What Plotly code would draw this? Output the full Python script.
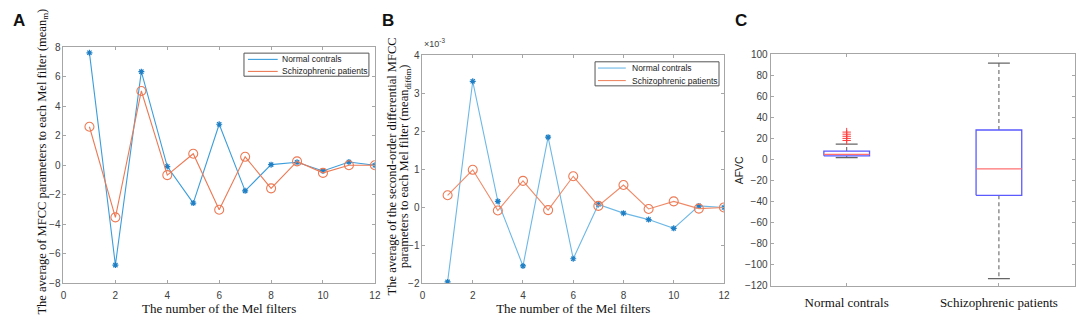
import plotly.graph_objects as go

# ---------------- data ----------------
filters = list(range(1, 13))
mfcc_normal = [7.63, -6.78, 6.35, -0.09, -2.57, 2.78, -1.74, 0.04, 0.20, -0.39, 0.22, 0.0]
mfcc_schizo = [2.61, -3.54, 5.04, -0.67, 0.78, -3.02, 0.57, -1.57, 0.26, -0.52, 0.0, 0.0]
dif_normal = [-1.97, 3.31, 0.15, -1.55, 1.84, -1.36, 0.07, -0.16, -0.33, -0.56, 0.03, -0.01]  # x 1e-3
dif_schizo = [0.31, 0.98, -0.09, 0.69, -0.08, 0.81, 0.03, 0.58, -0.05, 0.15, -0.04, -0.01]   # x 1e-3

groups = ["Normal contrals", "Schizophrenic patients"]
afvc_lower = [1.8, -113]
afvc_q1 = [3.5, -34]
afvc_median = [4.9, -9]
afvc_q3 = [8.0, 28]
afvc_upper = [14.5, 91.5]
afvc_outliers_normal = [18, 20, 22, 24, 26]

series_names = ["Normal contrals", "Schizophrenic patients"]

# ---------------- style ----------------
W, H = 1084, 316
BLUE = "#3b9ddb"
ORANGE = "#ec7a55"
BLUE_B = "#6db8e6"
ORANGE_B = "#ef8a68"
AX = "#a6a6a6"
TICKF = dict(family="Liberation Sans, Arial", size=10, color="#404040")
SERIF = "Liberation Serif, Times New Roman"
SANS = "Liberation Sans, Arial"


def px_x(v):
    return v / W


def px_y(v):
    return 1 - v / H


def dx(a, b):
    return [a / W, b / W]


def dy(top, bottom):
    return [1 - bottom / H, 1 - top / H]


fig = go.Figure()

# ---- Panel A ----
fig.add_trace(go.Scatter(x=filters, y=mfcc_normal, mode="lines+markers", xaxis="x", yaxis="y",
                         line=dict(color=BLUE, width=1.1), name=series_names[0],
                         marker=dict(symbol="asterisk-open", size=5, color="#1f7fc4", line=dict(width=1.2, color="#1f7fc4")),
                         showlegend=False))
fig.add_trace(go.Scatter(x=filters, y=mfcc_schizo, mode="lines+markers", xaxis="x", yaxis="y",
                         line=dict(color=ORANGE, width=1.1), name=series_names[1],
                         marker=dict(symbol="circle-open", size=9, color=ORANGE, line=dict(width=1.1, color=ORANGE)),
                         showlegend=False))

# ---- Panel B ----
fig.add_trace(go.Scatter(x=filters, y=dif_normal, mode="lines+markers", xaxis="x2", yaxis="y2",
                         line=dict(color=BLUE_B, width=1.1), name=series_names[0],
                         marker=dict(symbol="asterisk-open", size=5, color="#1f7fc4", line=dict(width=1.2, color="#1f7fc4")),
                         showlegend=False))
fig.add_trace(go.Scatter(x=filters, y=dif_schizo, mode="lines+markers", xaxis="x2", yaxis="y2",
                         line=dict(color=ORANGE_B, width=1.1), name=series_names[1],
                         marker=dict(symbol="circle-open", size=9, color=ORANGE, line=dict(width=1.1, color=ORANGE)),
                         showlegend=False))

# ---- Panel C (box plots built from stats) ----
bw, cw = 0.15, 0.072
for i in range(len(groups)):
    p = i + 1
    fig.add_trace(go.Scatter(x=[p, p, None, p, p],
                             y=[afvc_q3[i], afvc_upper[i], None, afvc_q1[i], afvc_lower[i]],
                             mode="lines", xaxis="x3", yaxis="y3", showlegend=False,
                             line=dict(color="#666666", width=1.1, dash="4px,3px")))
    fig.add_trace(go.Scatter(x=[p - cw, p + cw, None, p - cw, p + cw],
                             y=[afvc_upper[i], afvc_upper[i], None, afvc_lower[i], afvc_lower[i]],
                             mode="lines", xaxis="x3", yaxis="y3", showlegend=False,
                             line=dict(color="#666666", width=1.2)))
    fig.add_trace(go.Scatter(x=[p - bw, p + bw, p + bw, p - bw, p - bw],
                             y=[afvc_q1[i], afvc_q1[i], afvc_q3[i], afvc_q3[i], afvc_q1[i]],
                             mode="lines", xaxis="x3", yaxis="y3", showlegend=False,
                             fill="toself", fillcolor="white",
                             line=dict(color="#5a5aff", width=1.3)))
    fig.add_trace(go.Scatter(x=[p - bw, p + bw], y=[afvc_median[i], afvc_median[i]],
                             mode="lines", xaxis="x3", yaxis="y3", showlegend=False,
                             line=dict(color="#ff7070", width=1.3)))
fig.add_trace(go.Scatter(x=[1] * len(afvc_outliers_normal), y=afvc_outliers_normal, mode="markers",
                         xaxis="x3", yaxis="y3", showlegend=False,
                         marker=dict(symbol="cross-thin-open", size=6, color="#ff4040",
                                     line=dict(width=1.0, color="#ff4040"))))

common = dict(showline=True, linecolor=AX, linewidth=1, mirror="ticks", ticks="inside",
              ticklen=3, tickcolor=AX, showgrid=False, zeroline=False, tickfont=TICKF)

# ---- MATLAB-style compact legends (layout decorations) ----
shapes, annotations = [], []


def add_legend(box, line_x, line_ys, text_x, colors):
    x0, x1, y0, y1 = box
    shapes.append(dict(type="rect", xref="paper", yref="paper", x0=px_x(x0), x1=px_x(x1),
                       y0=px_y(y1), y1=px_y(y0), line=dict(color="#555", width=1), fillcolor="white",
                       layer="above"))
    for name, ly, col in zip(series_names, line_ys, colors):
        shapes.append(dict(type="line", xref="paper", yref="paper", x0=px_x(line_x[0]), x1=px_x(line_x[1]),
                           y0=px_y(ly), y1=px_y(ly), line=dict(color=col, width=1.1), layer="above"))
        annotations.append(dict(text=name, x=px_x(text_x), y=px_y(ly), xref="paper", yref="paper",
                                showarrow=False, xanchor="left", yanchor="middle",
                                font=dict(family=SANS, size=8.5, color="#222")))


add_legend((243, 369, 49, 73), (247, 277), (55.5, 68), 279, (BLUE, ORANGE))
add_legend((597, 722, 58, 83), (600, 628), (64.5, 77.5), 632, (BLUE_B, ORANGE_B))

for letter, x in (("A", 16), ("B", 388), ("C", 744)):
    annotations.append(dict(text=f"<b>{letter}</b>", x=px_x(x), y=px_y(15), xref="paper", yref="paper",
                            xanchor="center", yanchor="middle",
                            showarrow=False, font=dict(family=SANS, size=17, color="#111")))
annotations.append(dict(text="×10<sup>-3</sup>", x=px_x(423), y=px_y(47), xref="paper", yref="paper",
                        showarrow=False, xanchor="left", yanchor="bottom",
                        font=dict(family=SANS, size=9, color="#404040")))
# y-axis titles of panels A, B and C placed precisely
annotations.append(dict(text="The average of MFCC parameters to each Mel filter (mean<sub>m</sub>)",
                        x=px_x(40), y=px_y(162), xref="paper", yref="paper", textangle=-90,
                        xanchor="center", yanchor="middle", showarrow=False,
                        font=dict(family=SERIF, size=12.5, color="#111")))
annotations.append(dict(text="The average of the second-order differential MFCC",
                        x=px_x(392), y=px_y(167), xref="paper", yref="paper", textangle=-90,
                        xanchor="center", yanchor="middle", showarrow=False,
                        font=dict(family=SERIF, size=12.5, color="#111")))
annotations.append(dict(text="parameters to each Mel filter (mean<sub>dif6m</sub>)",
                        x=px_x(405), y=px_y(167), xref="paper", yref="paper", textangle=-90,
                        xanchor="center", yanchor="middle", showarrow=False,
                        font=dict(family=SERIF, size=12.5, color="#111")))
annotations.append(dict(text="AFVC", x=px_x(742), y=px_y(171), xref="paper", yref="paper", textangle=-90,
                        xanchor="center", yanchor="middle", showarrow=False,
                        font=dict(family=SANS, size=10.5, color="#222")))

fig.update_layout(
    width=W, height=H, autosize=False,
    margin=dict(l=0, r=0, t=0, b=0),
    paper_bgcolor="white", plot_bgcolor="white",
    showlegend=False,
    xaxis=dict(domain=dx(61, 375), range=[0, 12], tickvals=list(range(0, 13, 2)), anchor="y",
               ticklabelstandoff=3,
               title=dict(text="The number of the Mel filters", font=dict(family=SERIF, size=13, color="#111"), standoff=3),
               **common),
    yaxis=dict(domain=dy(43, 288), range=[-8, 8], tickvals=list(range(-8, 9, 2)), anchor="x", **common),
    xaxis2=dict(domain=dx(423, 727), range=[0, 12], tickvals=list(range(0, 13, 2)), anchor="y2",
                ticklabelstandoff=3,
                title=dict(text="The number of the Mel filters", font=dict(family=SERIF, size=13, color="#111"), standoff=3),
                **common),
    yaxis2=dict(domain=dy(51, 288), range=[-2, 4], tickvals=list(range(-2, 5)), anchor="x2", **common),
    xaxis3=dict(domain=dx(774, 1081), range=[0.5, 2.5], tickvals=[1, 2], ticktext=groups, anchor="y3",
                ticklabelstandoff=4,
                **{**common, "tickfont": dict(family=SERIF, size=13, color="#111")}),
    yaxis3=dict(domain=dy(50, 291), range=[-120, 100], tickvals=list(range(-120, 101, 20)), anchor="x3",
                **common),
    shapes=shapes,
    annotations=annotations,
)

fig.write_html("out.html", config={"displayModeBar": False},
               post_script="document.body.style.margin='0';document.body.style.padding='0';")
